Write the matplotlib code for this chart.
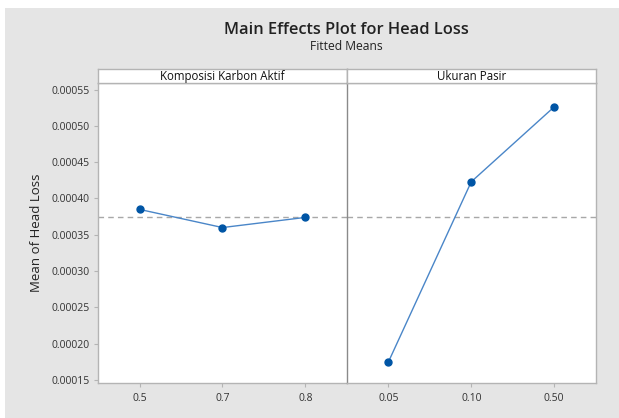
import matplotlib
matplotlib.use("Agg")
import matplotlib.pyplot as plt
from matplotlib.patches import Rectangle

# Data
factors = ["Komposisi Karbon Aktif", "Ukuran Pasir"]
levels_karbon = ["0.5", "0.7", "0.8"]
means_karbon = [0.000385, 0.000360, 0.000374]
levels_pasir = ["0.05", "0.10", "0.50"]
means_pasir = [0.000175, 0.000423, 0.000526]
overall_mean = 0.000374
yticks = [0.00015, 0.00020, 0.00025, 0.00030, 0.00035, 0.00040, 0.00045, 0.00050, 0.00055]

plt.rcParams['font.family'] = ['Open Sans', 'DejaVu Sans']

W, H = 619, 418
fig = plt.figure(figsize=(W / 100, H / 100), dpi=100, facecolor="white")
fig.patches.append(Rectangle((5 / W, 0), 1 - 5 / W, 1 - 8 / H, transform=fig.transFigure,
                             facecolor="#e5e5e5", edgecolor="none", zorder=-10))

left, right, mid = 98 / W, 595.5 / W, 347 / W
bottom, top = 1 - 383 / H, 1 - 83 / H
strip_top = 1 - 69 / H

frame_col = "#b4b4b4"
line_col = "#4a86c8"
mark_col = "#0055a5"

data = [(levels_karbon, means_karbon), (levels_pasir, means_pasir)]
for i, (name, (lv, mv)) in enumerate(zip(factors, data)):
    x0 = left if i == 0 else mid
    x1 = mid if i == 0 else right
    ax = fig.add_axes([x0, bottom, x1 - x0, top - bottom])
    ax.set_facecolor("white")
    xs = list(range(len(lv)))
    ax.plot(xs, mv, color=line_col, lw=1.0, zorder=3)
    ax.plot(xs, mv, 'o', color=mark_col, ms=5, zorder=4)
    ax.axhline(overall_mean, color="#a8a8a8", lw=1.0, ls=(0, (4, 3)), zorder=2)
    ax.set_xlim(-0.5, len(lv) - 0.5)
    ax.set_ylim(0.000146, 0.000559)
    ax.set_xticks(xs)
    ax.set_xticklabels(lv, fontsize=7.5, color="#333333")
    for s in ax.spines.values():
        s.set_color(frame_col)
        s.set_linewidth(1.0)
    ax.tick_params(axis='x', length=3, width=0.8, color=frame_col, pad=4)
    if i == 0:
        ax.set_yticks(yticks)
        ax.set_yticklabels([f"{v:.5f}" for v in yticks], fontsize=7.5, color="#333333")
        ax.tick_params(axis='y', length=3, width=0.8, color=frame_col, pad=3)
        ax.set_ylabel("Mean of Head Loss", fontsize=9.5, color="#222222", labelpad=6)
        ax.spines['right'].set_visible(False)
    else:
        ax.set_yticks([])
        ax.spines['left'].set_color("#8a8a8a")
    # strip
    sax = fig.add_axes([x0, top, x1 - x0, strip_top - top])
    sax.set_facecolor("white")
    sax.set_xticks([])
    sax.set_yticks([])
    for s in sax.spines.values():
        s.set_color(frame_col)
        s.set_linewidth(1.0)
    if i == 0:
        sax.spines['right'].set_color("#8a8a8a")
    sax.text(0.5, 0.45, name, ha="center", va="center", fontsize=8.3, color="#111111",
             transform=sax.transAxes)

cx = (left + right) / 2
fig.text(cx, 1 - 30 / H, "Main Effects Plot for Head Loss", ha="center", va="center",
         fontsize=11.8, fontweight="semibold", color="#222222")
fig.text(cx, 1 - 47 / H, "Fitted Means", ha="center", va="center", fontsize=8.7,
         color="#222222")

fig.savefig("out.png", dpi=100, facecolor=fig.get_facecolor())
